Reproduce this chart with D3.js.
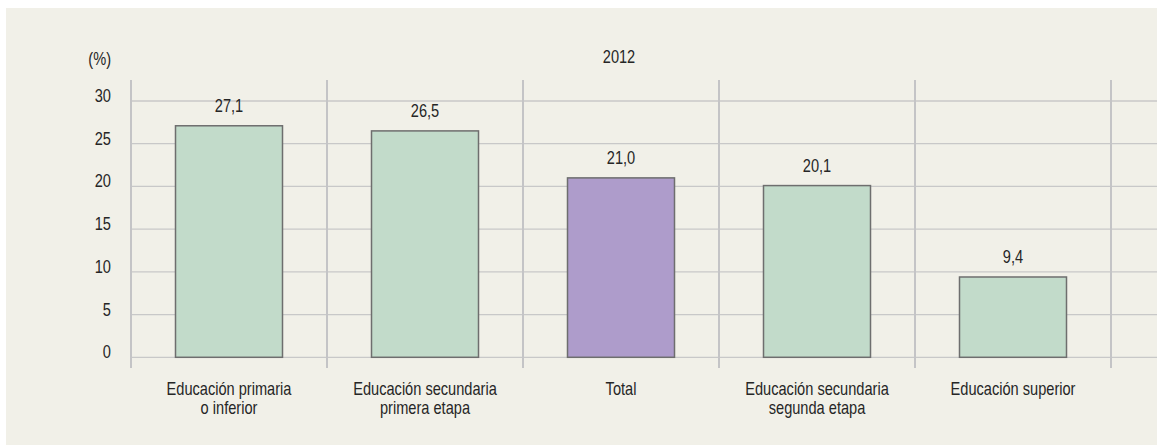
<!DOCTYPE html>
<html>
<head>
<meta charset="utf-8">
<script src="https://cdn.jsdelivr.net/npm/d3@7"></script>
<style>
  html, body { margin: 0; padding: 0; background: #ffffff; }
  svg { display: block; }
  text { font-family: "Liberation Sans", Arial, sans-serif; fill: #262626; }
</style>
</head>
<body>
<svg id="chart" width="1157" height="445"></svg>
<script>
const categories = [
  ["Educación primaria", "o inferior"],
  ["Educación secundaria", "primera etapa"],
  ["Total"],
  ["Educación secundaria", "segunda etapa"],
  ["Educación superior"]
];
const values = [27.1, 26.5, 21.0, 20.1, 9.4];
const highlight = [false, false, true, false, false];
const yTicks = [0, 5, 10, 15, 20, 25, 30];
const yearLabel = "2012";
const unitLabel = "(%)";

(function () {
const W = 1157, H = 445;
const FS = 17.6, SX = 0.83;
const svg = d3.select("#chart");
const at = (x, y) => `translate(${x},${y}) scale(${SX},1)`;

svg.append("rect").attr("x", 6).attr("y", 8).attr("width", W - 6).attr("height", H - 8)
  .attr("fill", "#f1f0e8");

const mLeft = 131, mRight = 1111, mTop = 101, mBottom = 357.3;
const x = d3.scaleBand().domain(d3.range(categories.length)).range([mLeft, mRight]).padding(0);
const y = d3.scaleLinear().domain([0, 30]).range([mBottom, mTop]);

// horizontal gridlines
svg.append("g").selectAll("line").data(yTicks).join("line")
  .attr("x1", mLeft).attr("x2", W)
  .attr("y1", d => y(d)).attr("y2", d => y(d))
  .attr("stroke", "#c8c8c8").attr("stroke-width", 1.3);

// vertical separators
const seps = d3.range(categories.length + 1).map(i => i < categories.length ? x(i) : mRight);
svg.append("g").selectAll("line").data(seps).join("line")
  .attr("x1", d => d).attr("x2", d => d)
  .attr("y1", 80).attr("y2", 368)
  .attr("stroke", "#c4c4c6").attr("stroke-width", 2);

// y tick labels
svg.append("g").selectAll("text").data(yTicks).join("text")
  .attr("transform", d => at(111, y(d) + 1))
  .attr("text-anchor", "end")
  .attr("font-size", FS)
  .text(d => d);

svg.append("text").attr("transform", at(111, 65)).attr("text-anchor", "end")
  .attr("font-size", FS).text(unitLabel);

svg.append("text").attr("transform", at((mLeft + mRight) / 2 - 2, 63)).attr("text-anchor", "middle")
  .attr("font-size", FS).text(yearLabel);

// bars
const bw = 107;
svg.append("g").selectAll("rect").data(values).join("rect")
  .attr("x", (d, i) => x(i) + x.bandwidth() / 2 - bw / 2)
  .attr("width", bw)
  .attr("y", d => y(d))
  .attr("height", d => y(0) - y(d))
  .attr("fill", (d, i) => highlight[i] ? "#ae9ccb" : "#c2dbca")
  .attr("stroke", "#6e6e6e").attr("stroke-width", 1.5);

// value labels
const fmt = d3.format(".1f");
svg.append("g").selectAll("text").data(values).join("text")
  .attr("transform", (d, i) => at(x(i) + x.bandwidth() / 2, y(d) - 14))
  .attr("text-anchor", "middle")
  .attr("font-size", FS)
  .text(d => fmt(d).replace(".", ","));

// category labels
const cat = svg.append("g").selectAll("text").data(categories).join("text")
  .attr("transform", (d, i) => at(x(i) + x.bandwidth() / 2, 395))
  .attr("text-anchor", "middle")
  .attr("font-size", FS);
cat.selectAll("tspan").data(d => d).join("tspan")
  .attr("x", 0)
  .attr("dy", (d, j) => j === 0 ? 0 : 19.5)
  .text(d => d);
})();
</script>
</body>
</html>
